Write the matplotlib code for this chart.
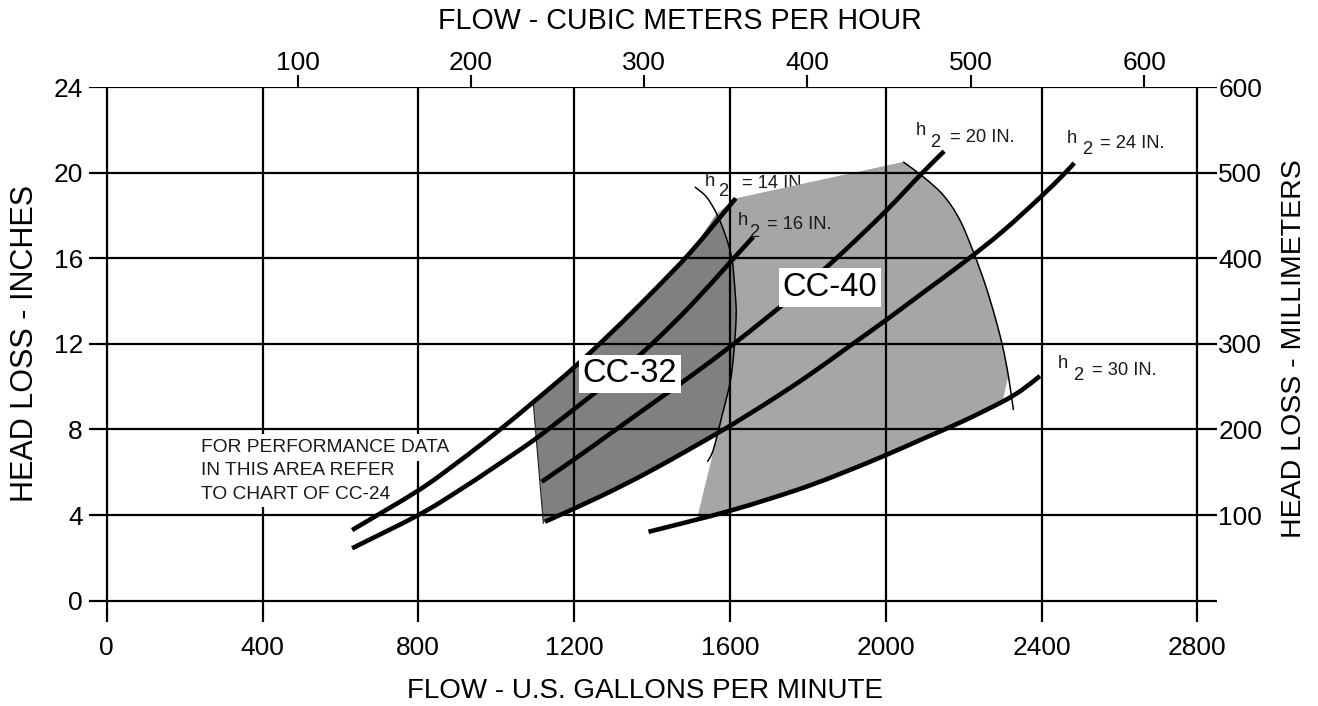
import matplotlib
matplotlib.use('Agg')
import matplotlib.pyplot as plt
from matplotlib.path import Path
from matplotlib.patches import PathPatch
import numpy as np

plt.rcParams['font.family'] = ['Liberation Sans', 'DejaVu Sans']

# ---------------- data ----------------
x_ticks = [0, 400, 800, 1200, 1600, 2000, 2400, 2800]
y_ticks = [0, 4, 8, 12, 16, 20, 24]
mm_ticks_in = [4, 8, 12, 16, 20, 24]
mm_labels = ['100', '200', '300', '400', '500', '600']
m3h_tick_gpm = [491, 935, 1379, 1799, 2219, 2664]
m3h_labels = ['100', '200', '300', '400', '500', '600']

# h2 = 14 IN. (thick line A)
A_gpm = [630, 800, 900, 1000, 1100, 1200, 1300, 1400, 1500, 1615]
A_in = [3.3, 5.15, 6.45, 7.85, 9.35, 10.9, 12.6, 14.4, 16.3, 18.8]
# h2 = 16 IN.
B_gpm = [630, 800, 900, 1000, 1100, 1200, 1300, 1400, 1500, 1600, 1660]
B_in = [2.45, 4.0, 5.1, 6.3, 7.55, 8.95, 10.4, 12.0, 13.8, 15.8, 17.0]
# h2 = 20 IN.
C_gpm = [1117, 1200, 1300, 1400, 1500, 1600, 1700, 1800, 1900, 2000, 2092, 2150]
C_in = [5.56, 6.6, 7.9, 9.2, 10.5, 11.86, 13.3, 14.8, 16.45, 18.2, 19.95, 21.0]
# h2 = 24 IN.
D_gpm = [1125, 1266, 1400, 1575, 1700, 1800, 1900, 2000, 2100, 2200, 2300, 2400, 2456, 2484]
D_in = [3.69, 4.86, 6.1, 7.9, 9.3, 10.5, 11.8, 13.1, 14.45, 15.8, 17.25, 18.9, 19.9, 20.45]
# h2 = 30 IN.
E_gpm = [1391, 1500, 1600, 1700, 1800, 1900, 2000, 2100, 2200, 2300, 2350, 2396]
E_in = [3.22, 3.72, 4.2, 4.75, 5.35, 6.05, 6.8, 7.6, 8.4, 9.3, 9.85, 10.5]

# thin limit arc between CC-32 and CC-40 (top to bottom)
arc_gpm = [1510, 1540, 1566, 1587, 1605, 1613, 1616, 1609, 1600, 1579, 1557, 1542]
arc_in = [19.33, 18.86, 18.08, 17.15, 15.98, 14.5, 13.26, 11.39, 10.15, 8.59, 7.03, 6.49]

# CC-40 top corner and right limit curve
cc40_right_gpm = [2045, 2100, 2150, 2190, 2225, 2255, 2280, 2300, 2315, 2328]
cc40_right_in = [20.5, 19.75, 18.9, 17.8, 16.3, 14.8, 13.3, 11.9, 10.5, 8.9]
cc40_bottom_left = (1515, 3.77)

# CC-32 left edge
cc32_edge_gpm = [1095, 1121]
cc32_edge_in = [9.28, 3.62]

# ---------------- layout ----------------
W, H = 1318, 706
fig = plt.figure(figsize=(W / 100, H / 100), dpi=100)
X0PX, XSC = 106.7, 0.3895      # pixel of 0 GPM, px per GPM
Y0PX, YSC = 600.7, 21.404      # pixel of 0 in, px per inch
xlim = (-45, 2850)
ylim = (-1, 24)
lpx = X0PX + xlim[0] * XSC
rpx = X0PX + xlim[1] * XSC
bpx = Y0PX - ylim[0] * YSC
tpx = Y0PX - ylim[1] * YSC
ax = fig.add_axes([lpx / W, (H - bpx) / H, (rpx - lpx) / W, (bpx - tpx) / H])
ax.set_xlim(*xlim)
ax.set_ylim(*ylim)
for s in ax.spines.values():
    s.set_visible(False)


def P(xp, yp):
    return (xp - X0PX) / XSC, (Y0PX - yp) / YSC


def smooth_path(xs, ys):
    """Cubic Bezier path (Catmull-Rom tangents) through the read points."""
    p = np.column_stack([xs, ys]).astype(float)
    n = len(p)
    verts = [p[0]]
    codes = [Path.MOVETO]
    for i in range(n - 1):
        p0 = p[i - 1] if i > 0 else p[i]
        p1 = p[i]
        p2 = p[i + 1]
        p3 = p[i + 2] if i + 2 < n else p[i + 1]
        c1 = p1 + (p2 - p0) / 6.0
        c2 = p2 - (p3 - p1) / 6.0
        verts += [c1, c2, p2]
        codes += [Path.CURVE4] * 3
    return Path(verts, codes)


def draw_curve(xs, ys, lw, z=3, color='black'):
    ax.add_patch(PathPatch(smooth_path(xs, ys), fill=False, edgecolor=color, lw=lw,
                           capstyle='butt', joinstyle='round', zorder=z))


DARK = '#808080'
LIGHT = '#a6a6a6'
GRID_LW = 1.6
THICK = 3.3
THIN = 1.1

# grid
for y in y_ticks:
    ax.axhline(y, color='black', lw=GRID_LW, zorder=2)
for x in x_ticks:
    ax.axvline(x, color='black', lw=GRID_LW, zorder=2)

# ticks
ax.set_xticks(x_ticks)
ax.set_xticklabels([str(v) for v in x_ticks], fontsize=19)
ax.set_yticks(y_ticks)
ax.set_yticklabels([str(v) for v in y_ticks], fontsize=19)
ax.tick_params(axis='x', length=0, pad=10)
ax.tick_params(axis='y', length=0, pad=4.5)

axr = ax.twinx()
axr.set_ylim(*ylim)
axr.set_yticks(mm_ticks_in)
axr.set_yticklabels(mm_labels, fontsize=19)
axr.tick_params(axis='y', length=0, pad=1)
for s in axr.spines.values():
    s.set_visible(False)

axt = ax.twiny()
axt.set_xlim(*xlim)
axt.set_xticks(m3h_tick_gpm)
axt.set_xticklabels(m3h_labels, fontsize=19)
axt.tick_params(axis='x', length=8.6, width=1.5, direction='out', pad=0, colors='black')
for s in axt.spines.values():
    s.set_visible(False)

# shaded regions
Ee = lambda x: np.interp(x, E_gpm, E_in)

r_g = np.array(cc40_right_gpm)
r_i = np.array(cc40_right_in)
keep = r_i >= Ee(r_g)
x_last = r_g[keep][-1]
Eg = np.array(E_gpm)
Ei = np.array(E_in)
eb = (Eg < x_last) & (Eg > cc40_bottom_left[0])
ag = np.array(arc_gpm)
ai = np.array(arc_in)
arc_up_g = ag[::-1]
arc_up_i = ai[::-1]
sel = arc_up_g >= 1560
light_x = np.concatenate([[A_gpm[-1]], r_g[keep], Eg[eb][::-1], [cc40_bottom_left[0]],
                          arc_up_g[sel]])
light_y = np.concatenate([[A_in[-1]], r_i[keep], Ei[eb][::-1], [Ee(cc40_bottom_left[0])],
                          arc_up_i[sel]])
ax.fill(light_x, light_y, color=LIGHT, lw=0, zorder=1)

Dg = np.array(D_gpm)
Di = np.array(D_in)
db = (Dg >= 1125) & (Dg <= 1575)
asel = (arc_up_i >= 7.9) & (arc_up_i <= 18.1) & (arc_up_g > 1560)
Ag = np.array(A_gpm)
Ai = np.array(A_in)
ab = (Ag >= 1100) & (Ag <= 1500)
dark_x = np.concatenate([cc32_edge_gpm, Dg[db], arc_up_g[asel], Ag[ab][::-1]])
dark_y = np.concatenate([cc32_edge_in, Di[db], arc_up_i[asel], Ai[ab][::-1]])
ax.fill(dark_x, dark_y, color=DARK, lw=0, zorder=1)
ax.plot(cc32_edge_gpm, cc32_edge_in, color='#202020', lw=0.8, zorder=2)

# thin limit curves
draw_curve(arc_gpm, arc_in, THIN)
draw_curve(cc40_right_gpm, cc40_right_in, THIN)

# thick curves
for gx, gy in [(A_gpm, A_in), (B_gpm, B_in), (C_gpm, C_in), (D_gpm, D_in), (E_gpm, E_in)]:
    draw_curve(gx, gy, THICK)

# h2 labels: (h left px, h baseline px), ("2" left, baseline), ("=" left, baseline)
h2_labels = [
    ('= 14 IN.', (705, 186), (718, 196), (742, 188), 0.5),
    ('= 16 IN.', (738, 225), (749, 237), (767, 229), 4),
    ('= 20 IN.', (916, 135), (930, 147), (950, 142), 4),
    ('= 24 IN.', (1067, 143), (1082, 154), (1100, 148), 4),
    ('= 30 IN.', (1058, 368), (1073, 380), (1092, 375), 4),
]
for txt, hp, tp, ep, z in h2_labels:
    kw = dict(fontsize=13.2, ha='left', va='baseline', color='#1a1a1a', zorder=z, clip_on=False)
    ax.text(*P(*hp), 'h', **kw)
    ax.text(*P(*tp), '2', **kw)
    ax.text(*P(*ep), txt, **kw)

# model labels
for name, c in [('CC-32', (630, 373.7)), ('CC-40', (830, 287.5))]:
    ax.text(*P(*c), name, fontsize=23.5, ha='center', va='center', zorder=5,
            bbox=dict(facecolor='white', edgecolor='none', pad=2.5))

# note text (white backing hides the grid, but not the curves)
note_lines = ['FOR PERFORMANCE DATA', 'IN THIS AREA REFER', 'TO CHART OF CC-24']
for i, line in enumerate(note_lines):
    ax.text(*P(201, 452 + i * 23.3), line, fontsize=13.8, ha='left', va='baseline',
            color='#1a1a1a', zorder=2.5,
            bbox=dict(facecolor='white', edgecolor='none', pad=3.5))

# axis titles
fig.text(645 / W, 1 - 691 / H, 'FLOW - U.S. GALLONS PER MINUTE', fontsize=20,
         ha='center', va='center')
fig.text(680 / W, 1 - 21 / H, 'FLOW - CUBIC METERS PER HOUR', fontsize=20.6,
         ha='center', va='center')
fig.text(25 / W, 1 - 343 / H, 'HEAD LOSS - INCHES', fontsize=22, rotation=90,
         ha='center', va='center')
fig.text(1294 / W, 1 - 349 / H, 'HEAD LOSS - MILLIMETERS', fontsize=20.5, rotation=90,
         ha='center', va='center')

fig.savefig('out.png', dpi=100)
